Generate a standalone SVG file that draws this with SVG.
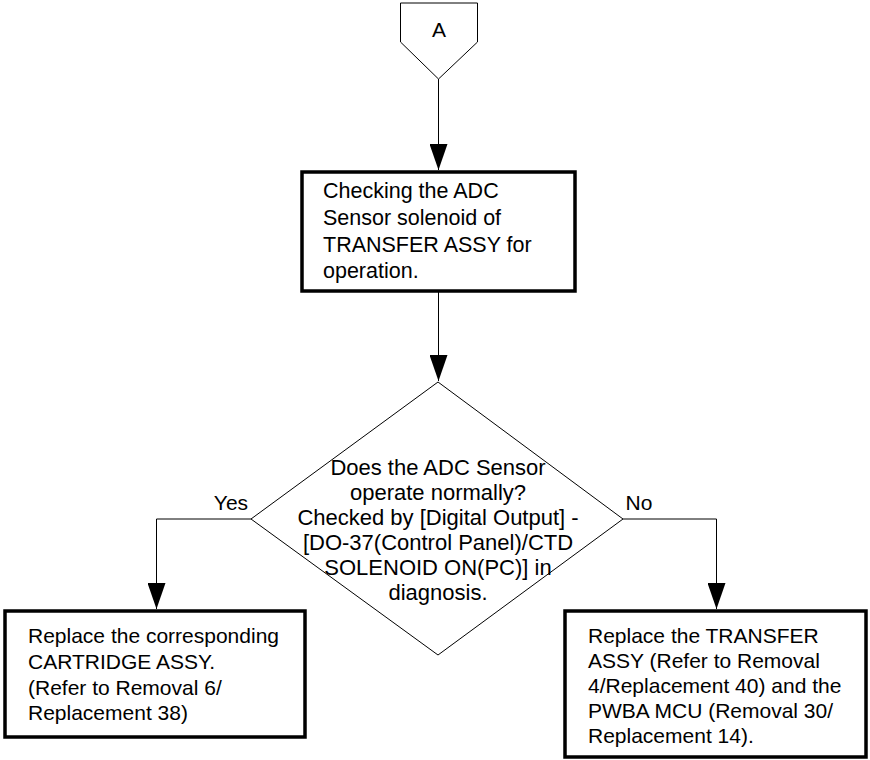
<svg xmlns="http://www.w3.org/2000/svg" width="870" height="760" viewBox="0 0 870 760">
<defs>
<marker id="arr" markerUnits="userSpaceOnUse" markerWidth="26" markerHeight="18" refX="26" refY="9" orient="auto" viewBox="0 0 26 18">
<path d="M0,0 L26,9 L0,18 Z" fill="#000"/>
</marker>
<style>
text{font-family:"Liberation Sans",Arial,sans-serif;font-size:21px;fill:#000}
.c{text-anchor:middle}
.d{font-size:22px}
.b1{font-size:21.5px}
.box{fill:#fff;stroke:#000;stroke-width:3.5}
.thin{fill:#fff;stroke:#000;stroke-width:1}
.ln{fill:none;stroke:#000;stroke-width:1}
</style>
</defs>
<rect width="870" height="760" fill="#fff"/>
<g id="connectors">
<path class="ln" d="M438.5,79 V170" marker-end="url(#arr)"/>
<path class="ln" d="M438.5,291 V381" marker-end="url(#arr)"/>
<path class="ln" d="M251,519 H156.5 V609" marker-end="url(#arr)"/>
<path class="ln" d="M623,519 H716.5 V609" marker-end="url(#arr)"/>
<text x="231" y="510" class="c">Yes</text>
<text x="639" y="510" class="c">No</text>
</g>
<g id="A">
<path class="thin" d="M400.5,3 H477.5 V42 L438.5,79 L400.5,42 Z"/>
<text x="439" y="37" class="c">A</text>
</g>
<g id="check">
<rect class="box" x="302" y="172" width="273" height="119"/>
<text x="323" y="198" class="b1">Checking the ADC</text>
<text x="323" y="225" class="b1">Sensor solenoid of</text>
<text x="323" y="252" class="b1">TRANSFER ASSY for</text>
<text x="323" y="278" class="b1">operation.</text>
</g>
<g id="decision">
<path class="thin" d="M438,382 L623,519 L438,655 L251,519 Z" fill="none"/>
<text x="438" y="475" class="c d">Does the ADC Sensor</text>
<text x="438" y="500" class="c d">operate normally?</text>
<text x="438" y="525" class="c d">Checked by [Digital Output] -</text>
<text x="438" y="550" class="c d">[DO-37(Control Panel)/CTD</text>
<text x="438" y="575" class="c d">SOLENOID ON(PC)] in</text>
<text x="438" y="600" class="c d">diagnosis.</text>
</g>
<g id="yesbox">
<rect class="box" x="5" y="611" width="300" height="126"/>
<text x="28" y="643">Replace the corresponding</text>
<text x="28" y="669">CARTRIDGE ASSY.</text>
<text x="28" y="695">(Refer to Removal 6/</text>
<text x="28" y="720">Replacement 38)</text>
</g>
<g id="nobox">
<rect class="box" x="565" y="611" width="301" height="146"/>
<text x="588" y="643">Replace the TRANSFER</text>
<text x="588" y="668">ASSY (Refer to Removal</text>
<text x="588" y="693">4/Replacement 40) and the</text>
<text x="588" y="718">PWBA MCU (Removal 30/</text>
<text x="588" y="743">Replacement 14).</text>
</g>
</svg>
